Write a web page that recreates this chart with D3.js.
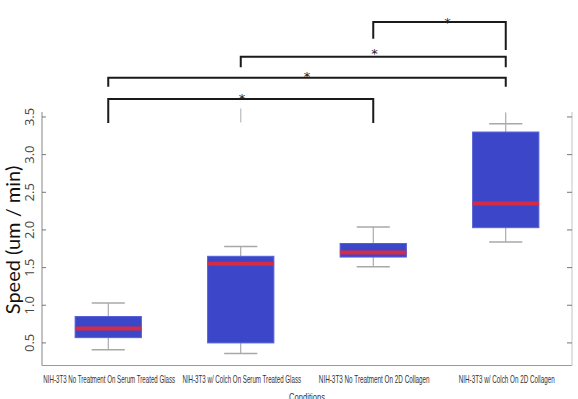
<!DOCTYPE html>
<html>
<head>
<meta charset="utf-8">
<script src="https://cdn.jsdelivr.net/npm/d3@7"></script>
<style>
  body { margin: 0; background: #fff; }
  svg { display: block; }
</style>
</head>
<body>
<div id="chart"></div>
<script>
// Box statistics per condition (um / min)
var conditions = [
  'NIH-3T3 No Treatment On Serum Treated Glass',
  'NIH-3T3 w/ Colch On Serum Treated Glass',
  'NIH-3T3 No Treatment On 2D Collagen',
  'NIH-3T3 w/ Colch On 2D Collagen'
];
var whiskerLow = [0.41, 0.36, 1.51, 1.84];
var boxLow = [0.57, 0.50, 1.64, 2.03];
var medians = [0.69, 1.55, 1.70, 2.35];
var boxHigh = [0.85, 1.65, 1.82, 3.30];
var whiskerHigh = [1.03, 1.78, 2.04, 3.41];
var whiskerTop = [1.03, 1.78, 2.04, 3.56];
var outliers = [null, 3.52, null, null];

var yTicks = [0.5, 1.0, 1.5, 2.0, 2.5, 3.0, 3.5];

// Significance brackets: groups compared, bar level, leg ends, star position
var bracketFrom = [3, 2, 1, 1];
var bracketTo = [4, 4, 4, 3];
var bracketLevel = [4.76, 4.30, 4.02, 3.74];
var legEndFrom = [4.54, 4.16, 3.90, 3.42];
var legEndTo = [4.39, 4.16, 3.90, 3.42];
var starX = [3.56, 3.01, 2.5, 2.01];
var starY = [4.82, 4.40, 4.10, 3.81];

var width = 578, height = 399;
var svg = d3.select('#chart').append('svg')
    .attr('width', width)
    .attr('height', height);

var x = d3.scaleLinear().domain([0.5, 4.5]).range([42, 572]);
var y = d3.scaleLinear().domain([0.2, 3.566]).range([365.5, 112]);

var gray = '#9a9a9a';
// the category labels use a condensed face; squeeze them to the widths in the figure
var labelWidths = [132, 119, 111, 96];

// draw text horizontally squeezed to a given width
function condensed(sel, str, cx, cy, w) {
  var t = sel.append('text')
      .attr('text-anchor', 'middle')
      .attr('font-family', 'Liberation Sans, Arial, sans-serif')
      .attr('font-size', 10.5)
      .attr('fill', '#333')
      .text(str);
  var natural = t.node().getComputedTextLength();
  t.attr('transform', 'translate(' + cx + ',' + cy + ') scale(' + (w / natural) + ',1)');
  return t;
}

// frame: left, bottom, right
svg.append('line')
    .attr('x1', x(0.5)).attr('x2', x(0.5))
    .attr('y1', y(3.566)).attr('y2', y(0.2))
    .attr('stroke', gray).attr('stroke-width', 1.2);
svg.append('line')
    .attr('x1', x(0.5)).attr('x2', x(4.5))
    .attr('y1', y(0.2)).attr('y2', y(0.2))
    .attr('stroke', gray).attr('stroke-width', 1.2);
svg.append('line')
    .attr('x1', x(4.5)).attr('x2', x(4.5))
    .attr('y1', y(3.566)).attr('y2', y(0.2))
    .attr('stroke', '#c4c4c4').attr('stroke-width', 1);

// y ticks inside on both sides
yTicks.forEach(function (t) {
  svg.append('line')
      .attr('x1', x(0.5)).attr('x2', x(0.5) + 4)
      .attr('y1', y(t)).attr('y2', y(t))
      .attr('stroke', '#777');
  svg.append('line')
      .attr('x1', x(4.5) - 5).attr('x2', x(4.5))
      .attr('y1', y(t)).attr('y2', y(t))
      .attr('stroke', '#777');
  svg.append('text')
      .attr('transform', 'translate(34,' + y(t) + ') rotate(-90)')
      .attr('text-anchor', 'middle')
      .attr('font-family', 'Open Sans, sans-serif')
      .attr('font-size', 13)
      .attr('fill', '#444')
      .text(t.toFixed(1));
});

svg.append('text')
    .attr('transform', 'translate(20,' + 240 + ') rotate(-90)')
    .attr('text-anchor', 'middle')
    .attr('font-family', 'Lato, sans-serif')
    .attr('font-size', 20)
    .attr('fill', '#111')
    .text('Speed (um / min)');

// boxes
var boxW = 0.25, capW = 0.125;
conditions.forEach(function (c, i) {
  var cx = x(i + 1);
  var g = svg.append('g');
  g.append('line')
      .attr('x1', cx).attr('x2', cx)
      .attr('y1', y(whiskerTop[i])).attr('y2', y(boxHigh[i]))
      .attr('stroke', gray).attr('stroke-width', 1);
  g.append('line')
      .attr('x1', cx).attr('x2', cx)
      .attr('y1', y(boxLow[i])).attr('y2', y(whiskerLow[i]))
      .attr('stroke', gray).attr('stroke-width', 1);
  [whiskerHigh[i], whiskerLow[i]].forEach(function (v) {
    g.append('line')
        .attr('x1', x(i + 1 - capW)).attr('x2', x(i + 1 + capW))
        .attr('y1', y(v)).attr('y2', y(v))
        .attr('stroke', '#a8a8a8').attr('stroke-width', 1.5);
  });
  g.append('rect')
      .attr('x', x(i + 1 - boxW))
      .attr('width', x(i + 1 + boxW) - x(i + 1 - boxW))
      .attr('y', y(boxHigh[i]))
      .attr('height', y(boxLow[i]) - y(boxHigh[i]))
      .attr('fill', '#3c46c8')
      .attr('stroke', '#5560d8')
      .attr('stroke-width', 1);
  g.append('line')
      .attr('x1', x(i + 1 - boxW)).attr('x2', x(i + 1 + boxW))
      .attr('y1', y(medians[i])).attr('y2', y(medians[i]))
      .attr('stroke', '#d62b45').attr('stroke-width', 4);
  if (outliers[i] !== null) {
    g.append('line')
        .attr('x1', cx).attr('x2', cx)
        .attr('y1', y(outliers[i]) - 7).attr('y2', y(outliers[i]) + 7)
        .attr('stroke', '#bbb').attr('stroke-width', 1.2);
  }
  condensed(svg, c, cx + 1, 383, labelWidths[i]);
});

condensed(svg, 'Conditions', (x(0.5) + x(4.5)) / 2, 401, 36);

// significance brackets
bracketFrom.forEach(function (a, i) {
  var b = bracketTo[i];
  var path = d3.path();
  path.moveTo(x(a), y(legEndFrom[i]));
  path.lineTo(x(a), y(bracketLevel[i]));
  path.lineTo(x(b), y(bracketLevel[i]));
  path.lineTo(x(b), y(legEndTo[i]));
  svg.append('path')
      .attr('d', path.toString())
      .attr('fill', 'none')
      .attr('stroke', '#1a1a1a')
      .attr('stroke-width', 2);
  svg.append('text')
      .attr('x', x(starX[i])).attr('y', y(starY[i]) + 9)
      .attr('text-anchor', 'middle')
      .attr('font-family', 'DejaVu Sans, sans-serif')
      .attr('font-size', 13)
      .attr('fill', '#222')
      .text('*');
});
</script>
</body>
</html>
